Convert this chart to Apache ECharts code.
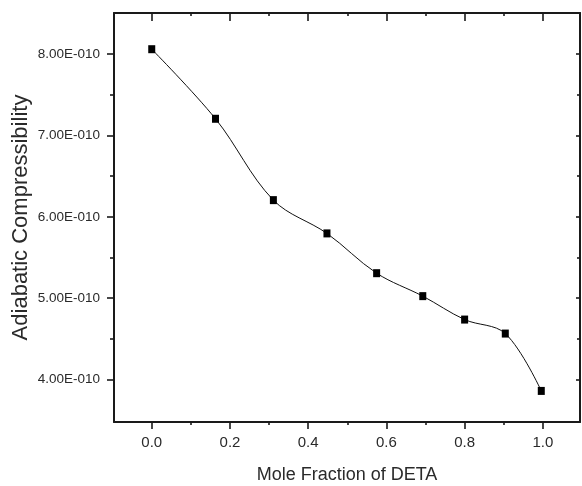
<!DOCTYPE html>
<html>
<head>
<meta charset="utf-8">
<script src="https://cdn.jsdelivr.net/npm/echarts@6/dist/echarts.min.js"></script>
<style>
html,body{margin:0;padding:0;background:#fff;}
#chart{width:582px;height:486px;}
</style>
</head>
<body>
<div id="chart"></div>
<script>
// Data
var moleFraction = [0.0, 0.163, 0.311, 0.448, 0.575, 0.693, 0.800, 0.904, 0.996];
var compressibility = [8.06e-10, 7.205e-10, 6.205e-10, 5.796e-10, 5.307e-10, 5.025e-10, 4.737e-10, 4.565e-10, 3.86e-10];

var xTickValues = [0.0, 0.2, 0.4, 0.6, 0.8, 1.0];
var xTickLabels = ['0.0', '0.2', '0.4', '0.6', '0.8', '1.0'];
var xMinorTicks = [0.1, 0.3, 0.5, 0.7, 0.9];
var yTickValues = [4e-10, 5e-10, 6e-10, 7e-10, 8e-10];
var yTickLabels = ['4.00E-010', '5.00E-010', '6.00E-010', '7.00E-010', '8.00E-010'];
var yMinorTicks = [4.5e-10, 5.5e-10, 6.5e-10, 7.5e-10];

var xMin = -0.0965, xMax = 1.095;
var yMin = 3.478e-10, yMax = 8.505e-10;

function labelFor(values, labels) {
  return function (v) {
    for (var i = 0; i < values.length; i++) {
      if (Math.abs(values[i] - v) < Math.abs(values[i]) * 1e-6 + 1e-16) return labels[i];
    }
    return '';
  };
}

var lineCol = '#1a1a1a';
var textCol = '#2a2a2a';

function xAx(pos, opts) {
  return {
    type: 'value', position: pos, min: xMin, max: xMax,
    splitLine: { show: false },
    axisLine: { show: opts.line, onZero: false, lineStyle: { color: lineCol, width: 2 } },
    axisTick: { show: true, inside: opts.inside, length: opts.len, customValues: opts.ticks,
                lineStyle: { color: lineCol, width: 1.6 } },
    axisLabel: { show: false }
  };
}
function yAx(pos, opts) {
  return {
    type: 'value', position: pos, min: yMin, max: yMax,
    splitLine: { show: false },
    axisLine: { show: opts.line, onZero: false, lineStyle: { color: lineCol, width: 2 } },
    axisTick: { show: true, inside: opts.inside, length: opts.len, customValues: opts.ticks,
                lineStyle: { color: lineCol, width: 1.6 } },
    axisLabel: { show: false }
  };
}

var xMain = xAx('bottom', { line: true, inside: false, len: 7, ticks: xTickValues });
xMain.axisLabel = {
  show: true, customValues: xTickValues, formatter: labelFor(xTickValues, xTickLabels),
  color: textCol, fontFamily: 'Liberation Sans Narrow, Liberation Sans, Arial', fontSize: 15, margin: 13
};
xMain.name = 'Mole Fraction of DETA';
xMain.nameLocation = 'middle';
xMain.nameGap = 44;
xMain.nameMoveOverlap = false;
xMain.nameTextStyle = { color: textCol, fontFamily: 'Liberation Sans, Arial', fontSize: 18 };

var yMain = yAx('left', { line: true, inside: false, len: 7, ticks: yTickValues });
yMain.axisLabel = {
  show: true, customValues: yTickValues, formatter: labelFor(yTickValues, yTickLabels),
  color: textCol, fontFamily: 'Liberation Sans Narrow, Liberation Sans, Arial', fontSize: 13.5, margin: 14
};
yMain.name = 'Adiabatic Compressibility';
yMain.nameLocation = 'middle';
yMain.nameGap = 82;
yMain.nameMoveOverlap = false;
yMain.nameTextStyle = { color: textCol, fontFamily: 'Liberation Sans, Arial', fontSize: 22 };

var option = {
  backgroundColor: '#ffffff',
  animation: false,
  grid: { left: 114, right: 2, top: 13, bottom: 64, containLabel: false, outerBoundsMode: 'none' },
  xAxis: [
    xMain,
    xAx('bottom', { line: false, inside: false, len: 3, ticks: xMinorTicks }),
    xAx('top', { line: true, inside: true, len: 8, ticks: xTickValues }),
    xAx('top', { line: false, inside: true, len: 3, ticks: xMinorTicks })
  ],
  yAxis: [
    yMain,
    yAx('left', { line: false, inside: false, len: 4, ticks: yMinorTicks }),
    yAx('right', { line: true, inside: true, len: 4, ticks: yTickValues }),
    yAx('right', { line: false, inside: true, len: 3, ticks: yMinorTicks })
  ],
  series: [{
    type: 'line',
    xAxisIndex: 0, yAxisIndex: 0,
    data: moleFraction.map(function (x, i) { return [x, compressibility[i]]; }),
    smooth: 0.35,
    symbol: 'rect',
    symbolSize: [7, 8],
    itemStyle: { color: '#000' },
    lineStyle: { color: '#111', width: 1 }
  }]
};

var chart = echarts.init(document.getElementById('chart'), null, { renderer: 'canvas' });
chart.setOption(option);
</script>
</body>
</html>
